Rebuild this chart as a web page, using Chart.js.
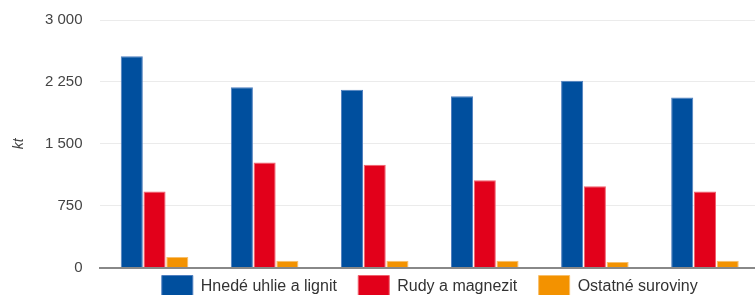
<!DOCTYPE html>
<html>
<head>
<meta charset="utf-8">
<script src="https://cdn.jsdelivr.net/npm/chart.js@4"></script>
<style>
  html, body { margin: 0; padding: 0; background: #fff; overflow: hidden; }
  #wrap { position: absolute; left: 0; top: -6.5px; width: 760px; height: 313.5px; }
</style>
</head>
<body>
<div id="wrap"><canvas id="chart"></canvas></div>
<script>
// roky (na grafe nie sú popísané)
const categories = ['2017', '2018', '2019', '2020', '2021', '2022'];
const seriesNames = ['Hnedé uhlie a lignit', 'Rudy a magnezit', 'Ostatné suroviny'];
const lignit = [2560, 2185, 2155, 2075, 2265, 2060];
const rudy = [920, 1272, 1245, 1058, 985, 920];
const ostatne = [128, 82, 82, 82, 66, 82];
const yTicks = [0, 750, 1500, 2250, 3000];
const colors = ['#004f9e', '#e2001a', '#f39200'];
const borders = ['#4f7fbf', '#f0606d', '#f8bf6a'];

const values = [lignit, rudy, ostatne];

function fmt(v) {
    return String(v).replace(/\B(?=(\d{3})+(?!\d))/g, ' ');
}

Chart.defaults.font.family = '"Liberation Sans", Arial, sans-serif';
Chart.defaults.color = '#444';

new Chart(document.getElementById('chart'), {
    type: 'bar',
    data: {
        labels: categories,
        datasets: seriesNames.map((name, i) => ({
            label: name,
            data: values[i],
            backgroundColor: colors[i],
            borderColor: borders[i],
            borderWidth: 1,
            categoryPercentage: 0.62,
            barPercentage: 0.97
        }))
    },
    options: {
        responsive: true,
        maintainAspectRatio: false,
        animation: false,
        layout: { padding: { left: 0, right: 0, top: 8, bottom: 0 } },
        plugins: {
            tooltip: { enabled: false },
            legend: {
                position: 'bottom',
                fullSize: false,
                labels: {
                    boxWidth: 31,
                    boxHeight: 22,
                    padding: 8,
                    color: '#333',
                    font: { size: 16 },
                    // medzery navyše = väčší odstup medzi položkami (okrem poslednej)
                    generateLabels: chart => {
                        const items = Chart.defaults.plugins.legend.labels.generateLabels(chart);
                        return items.map((l, i) => ({ ...l, text: i < items.length - 1 ? l.text + '   ' : l.text }));
                    }
                }
            }
        },
        scales: {
            x: {
                ticks: { display: false },
                grid: { display: false, drawTicks: false },
                border: { display: true, color: '#888', width: 2 },
                afterFit: s => { s.height = 0; }
            },
            y: {
                min: 0,
                max: 3000,
                afterBuildTicks: s => { s.ticks = yTicks.map(v => ({ value: v })); },
                ticks: {
                    padding: 17,
                    color: '#444',
                    font: { size: 15 },
                    callback: v => fmt(v)
                },
                grid: { color: '#ebebeb', drawTicks: false },
                border: { display: false },
                title: {
                    display: true,
                    text: 'kt',
                    color: '#444',
                    font: { size: 14, style: 'italic' },
                    padding: { top: 11, bottom: 0 }
                },
                afterFit: s => { s.width = 99.5; }
            }
        }
    }
});
</script>
</body>
</html>
